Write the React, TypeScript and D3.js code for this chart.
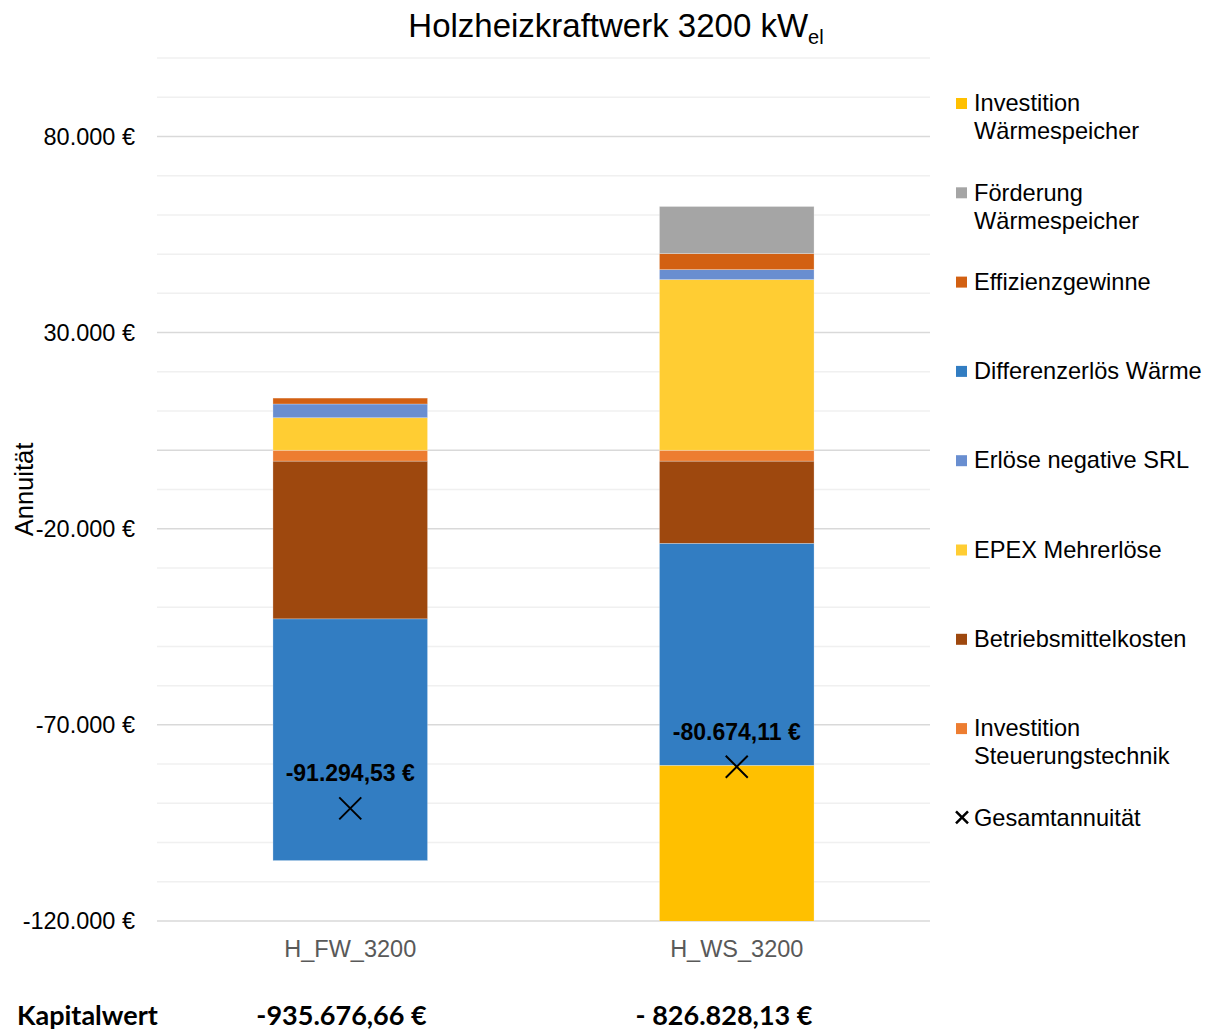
import React from "react";
import * as d3 from "d3";

const categories = ["H_FW_3200", "H_WS_3200"];
const seriesNames = [
  "Investition Steuerungstechnik",
  "Betriebsmittelkosten",
  "EPEX Mehrerlöse",
  "Erlöse negative SRL",
  "Differenzerlös Wärme",
  "Effizienzgewinne",
  "Förderung Wärmespeicher",
  "Investition Wärmespeicher",
];
const seriesColors = ["#ED7D31", "#9E480E", "#FFCD33", "#698ED0", "#327DC2", "#D26012", "#A5A5A5", "#FFC000"];
const investitionSteuerung = [-2800, -2800];
const betriebsmittelkosten = [-40200, -21000];
const epexMehrerloese = [8300, 43500];
const erloeseSRL = [3500, 2550];
const differenzerloesWaerme = [-61600, -56600];
const effizienzgewinne = [1500, 4100];
const foerderungWS = [0, 12000];
const investitionWS = [0, -62400];
const gesamtannuitaet = [-91294.53, -80674.11];
const kapitalwert = ["-935.676,66 €", "- 826.828,13 €"];
const yTicks = [-120000, -70000, -20000, 30000, 80000];
const legendItems = [
  { lines: ["Investition", "Wärmespeicher"], color: "#FFC000" },
  { lines: ["Förderung", "Wärmespeicher"], color: "#A5A5A5" },
  { lines: ["Effizienzgewinne"], color: "#D26012" },
  { lines: ["Differenzerlös Wärme"], color: "#327DC2" },
  { lines: ["Erlöse negative SRL"], color: "#698ED0" },
  { lines: ["EPEX Mehrerlöse"], color: "#FFCD33" },
  { lines: ["Betriebsmittelkosten"], color: "#9E480E" },
  { lines: ["Investition", "Steuerungstechnik"], color: "#ED7D31" },
  { lines: ["Gesamtannuität"], color: "x" },
];

const seriesValues = [
  investitionSteuerung,
  betriebsmittelkosten,
  epexMehrerloese,
  erloeseSRL,
  differenzerloesWaerme,
  effizienzgewinne,
  foerderungWS,
  investitionWS,
];

const locale = d3.formatLocale({ decimal: ",", thousands: ".", grouping: [3], currency: ["", " €"], minus: "-" });
const fmtTick = locale.format("$,.0f");
const fmtLabel = locale.format("$,.2f");

const FONT = "'Liberation Sans', Arial, sans-serif";

export default function App() {
  const W = 1216, H = 1032;
  const left = 157, right = 930, top = 58, bottom = 921;
  const y = d3.scaleLinear().domain([-120000, 100000]).range([bottom, top]);
  const x = d3.scaleBand().domain(categories).range([left, right]).paddingInner(0.6).paddingOuter(0.3);
  const bw = x.bandwidth();

  const segs: { x: number; y0: number; y1: number; color: string; key: string }[] = [];
  categories.forEach((c, ci) => {
    let pos = 0, neg = 0;
    seriesValues.forEach((vals, si) => {
      const v = vals[ci];
      if (!v) return;
      let a, b;
      if (v >= 0) { a = pos; b = pos + v; pos = b; } else { a = neg; b = neg + v; neg = b; }
      segs.push({ x: x(c)!, y0: y(Math.max(a, b)), y1: y(Math.min(a, b)), color: seriesColors[si], key: c + si });
    });
  });

  const grid = d3.range(-120000, 100001, 10000);
  const legendY0 = 103, legendStep = 89.3;
  const kwCenters = [341.5, 724];

  return (
    <svg width={W} height={H} style={{ position: "absolute", left: 0, top: 0, background: "#fff" }} fontFamily={FONT}>
      <defs>
        <clipPath id="plotclip"><rect x={left} y={top} width={right - left} height={bottom - top} /></clipPath>
      </defs>
      <text x={616} y={37} textAnchor="middle" fontSize={33} fill="#000">
        Holzheizkraftwerk 3200 kW<tspan fontSize={20} dy={7}>el</tspan>
      </text>
      {grid.map((g) => {
        const major = yTicks.includes(g) || g === 0;
        return <line key={g} x1={left} x2={right} y1={y(g)} y2={y(g)} stroke={major ? "#d9d9d9" : "#f0f0f0"} strokeWidth={1.5} />;
      })}
      {yTicks.map((t) => (
        <text key={t} x={135} y={y(t)} dy="0.35em" textAnchor="end" fontSize={23.5} fill="#000">{fmtTick(t)}</text>
      ))}
      <text transform={`translate(33,${(top + bottom) / 2}) rotate(-90)`} textAnchor="middle" fontSize={25.5} fill="#000">Annuität</text>
      <g clipPath="url(#plotclip)">
        {segs.map((s) => (
          <rect key={s.key} x={s.x} y={s.y0} width={bw} height={s.y1 - s.y0} fill={s.color} stroke="#ffffff" strokeOpacity={0.35} strokeWidth={0.75} />
        ))}
      </g>
      {categories.map((c, i) => {
        const cx = x(c)! + bw / 2;
        const cy = y(gesamtannuitaet[i]);
        const r = 11;
        return (
          <g key={c}>
            <path d={`M${cx - r},${cy - r}L${cx + r},${cy + r}M${cx - r},${cy + r}L${cx + r},${cy - r}`} stroke="#000" strokeWidth={2} />
            <text x={cx} y={cy - 35} dy="0.35em" textAnchor="middle" fontSize={23} fontWeight="bold" fill="#000">{fmtLabel(gesamtannuitaet[i])}</text>
            <text x={cx} y={949} dy="0.35em" textAnchor="middle" fontSize={23.5} fill="#595959">{c}</text>
            <text x={kwCenters[i]} y={1025} textAnchor="middle" fontSize={27} fontWeight="bold" fill="#000" fontFamily="Lato, sans-serif">{kapitalwert[i]}</text>
          </g>
        );
      })}
      <text x={17} y={1025} fontSize={27} fontWeight="bold" fill="#000" fontFamily="Lato, sans-serif">Kapitalwert</text>
      {legendItems.map((it, i) => {
        const ly = legendY0 + i * legendStep;
        return (
          <g key={i}>
            {it.color === "x" ? (
              <path d={`M956,${ly - 6}L968,${ly + 6}M956,${ly + 6}L968,${ly - 6}`} stroke="#000" strokeWidth={2.5} />
            ) : (
              <rect x={956} y={ly - 5} width={11} height={11} fill={it.color} />
            )}
            {it.lines.map((l, j) => (
              <text key={j} x={974} y={ly + j * 28} dy="0.35em" fontSize={23.6} fill="#000">{l}</text>
            ))}
          </g>
        );
      })}
    </svg>
  );
}
